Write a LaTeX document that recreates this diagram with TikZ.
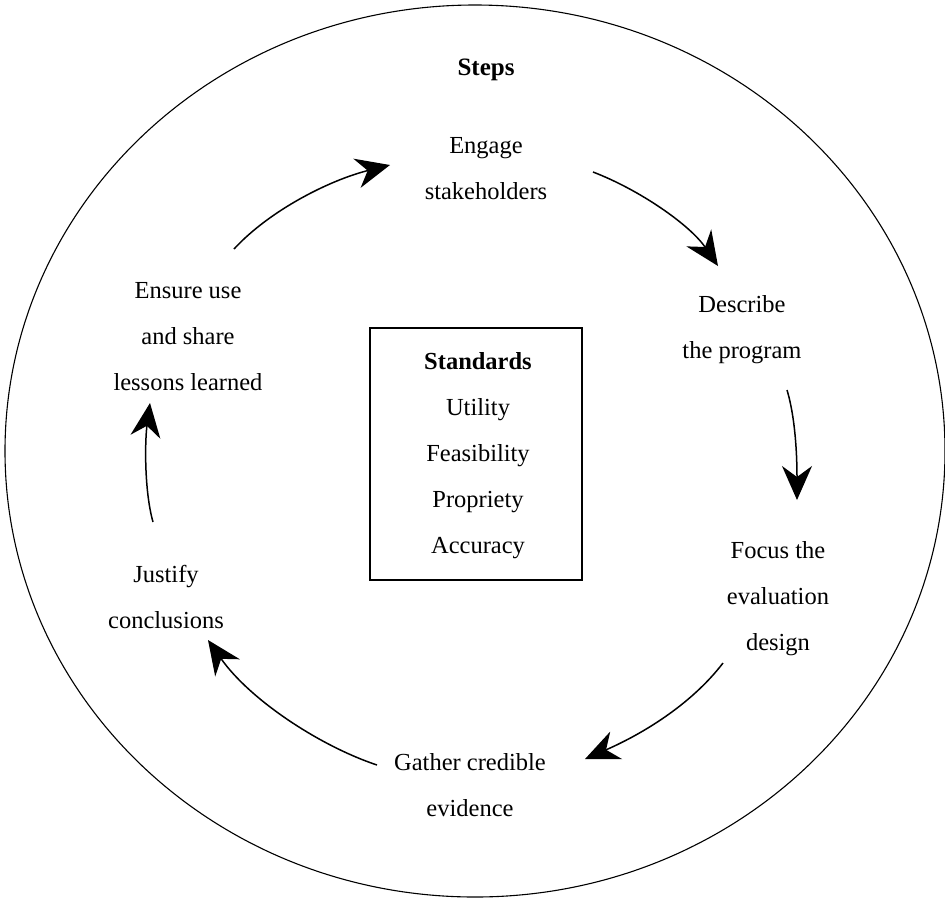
\documentclass[tikz,border=0pt]{standalone}
\usepackage{fontspec}
\setmainfont{Liberation Serif}
\usetikzlibrary{arrows.meta,shapes.geometric}
\tikzset{
  lbl/.style={align=center, inner sep=0pt, font=\fontsize{24.5}{46}\selectfont},
  cyc/.style={line width=1.5pt, -{Stealth[length=34pt 0, width=30pt 0, inset=11pt 0]}},
  frame/.style={draw, line width=1.1pt}
}
\begin{document}
\begin{tikzpicture}[x=1pt,y=-1pt]
\useasboundingbox (0,0) rectangle (945,914);
\node[frame, ellipse, minimum width=940pt, minimum height=892pt, inner sep=0pt] (outer) at (475,451) {};
\node[lbl, font=\fontsize{25}{46}\selectfont\bfseries] (steps) at (486,70) {Steps};
\node[lbl] (engage) at (486,169) {Engage\\stakeholders};
\node[lbl] (describe) at (742,330) {Describe\\the program};
\node[lbl] (focus) at (778,599) {Focus the\\evaluation\\design};
\node[lbl] (gather) at (470,785) {Gather credible\\evidence};
\node[lbl] (justify) at (166,597) {Justify\\conclusions};
\node[lbl] (ensure) at (188,337) {Ensure use\\and share\\lessons learned};
\node[frame, minimum width=212pt, minimum height=252pt, inner sep=0pt] (box) at (476,454) {};
\node[lbl] (std) at (478,456) {\textbf{Standards}\\Utility\\Feasibility\\Propriety\\Accuracy};
% arrow end points
\coordinate (a1s) at (234,249); \coordinate (a1e) at (390,165);
\coordinate (a2s) at (593,172); \coordinate (a2e) at (718,266);
\coordinate (a3s) at (787,390); \coordinate (a3e) at (797,500);
\coordinate (a4s) at (723,663); \coordinate (a4e) at (585,759);
\coordinate (a5s) at (377,765); \coordinate (a5e) at (208,640);
\coordinate (a6s) at (153,522); \coordinate (a6e) at (150,403);
\draw[cyc] (a1s) .. controls (270,210) and (330,180) .. (a1e);
\draw[cyc] (a2s) .. controls (640,190) and (690,225) .. (a2e);
\draw[cyc] (a3s) .. controls (796,420) and (797,460) .. (a3e);
\draw[cyc] (a4s) .. controls (690,706) and (640,735) .. (a4e);
\draw[cyc] (a5s) .. controls (320,746) and (250,700) .. (a5e);
\draw[cyc] (a6s) .. controls (144,490) and (145,440) .. (a6e);
\end{tikzpicture}
\end{document}
